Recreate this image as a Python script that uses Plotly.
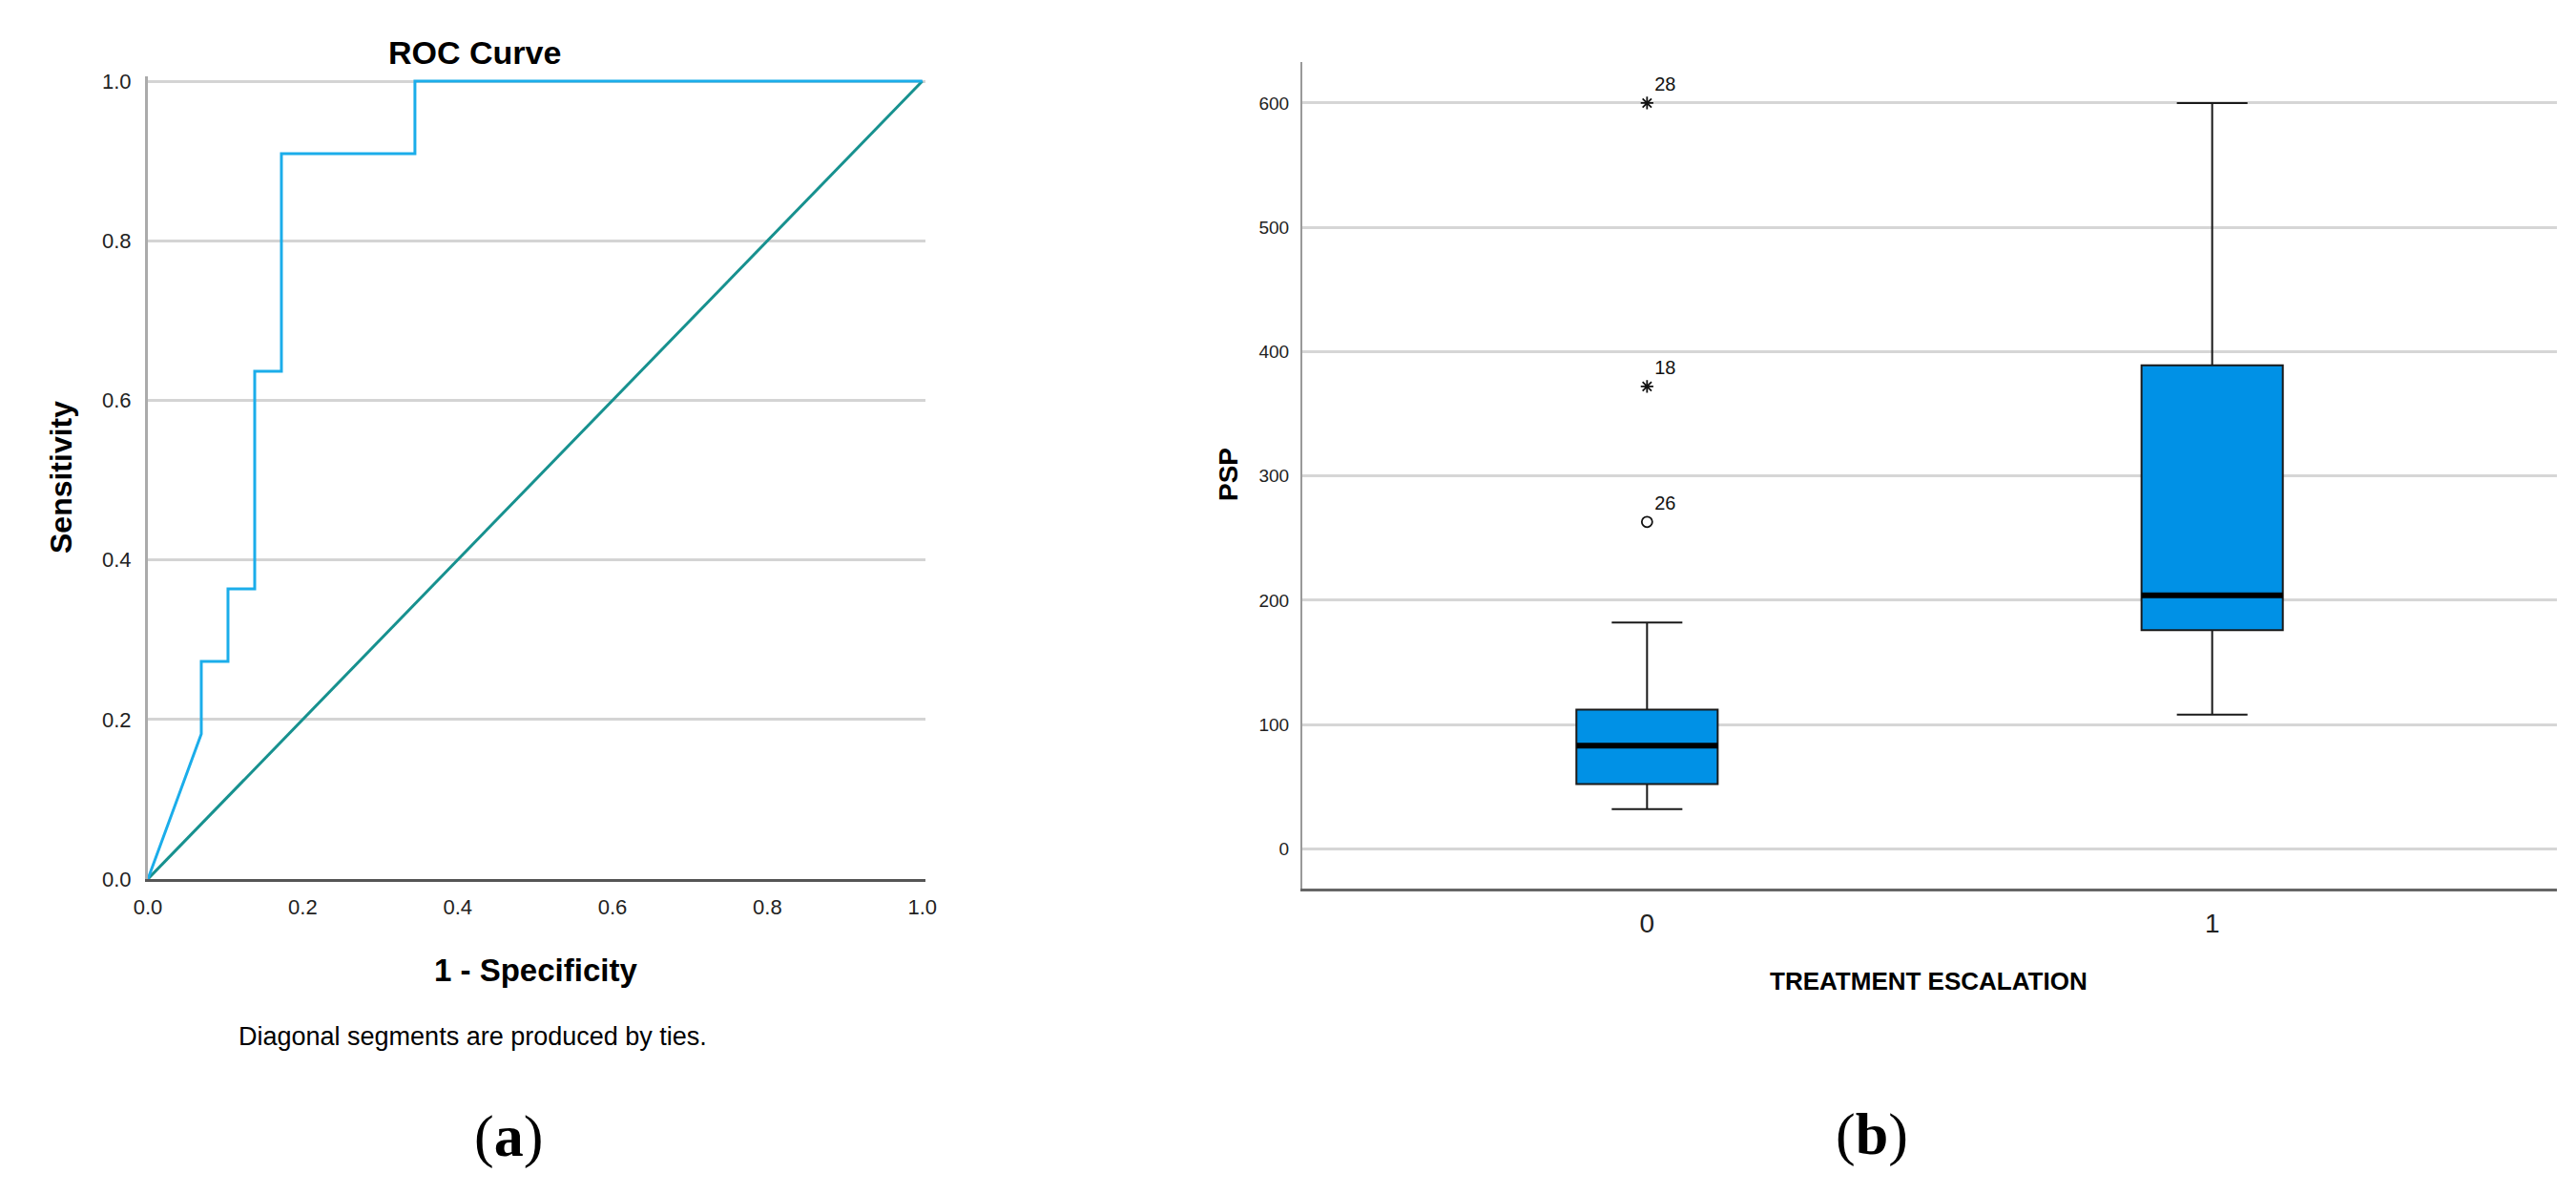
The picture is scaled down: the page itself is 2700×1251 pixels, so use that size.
import plotly.graph_objects as go

W, H = 2700, 1251
OFF = 8  # default page body margin

# ---------------- (a) ROC curve data ----------------
roc_fpr = [0, 2/29, 2/29, 3/29, 3/29, 4/29, 4/29, 5/29, 5/29, 10/29, 10/29, 1]
roc_tpr = [0, 2/11, 3/11, 3/11, 4/11, 4/11, 7/11, 7/11, 10/11, 10/11, 1, 1]
ref_fpr = [0, 1]
ref_tpr = [0, 1]
roc_ticks = [0, 0.2, 0.4, 0.6, 0.8, 1.0]
roc_tick_text = ["0.0", "0.2", "0.4", "0.6", "0.8", "1.0"]

# ---------------- (b) Box plot data ----------------
groups = [0, 1]
group_labels = ["0", "1"]
q1 = [52, 176]
median = [83, 204]
q3 = [112, 389]
lower_fence = [32, 108]
upper_fence = [182, 600]
outlier_group = [0, 0, 0]
outlier_value = [600, 372, 263]
outlier_id = ["28", "18", "26"]
outlier_extreme = [True, True, False]
psp_ticks = [0, 100, 200, 300, 400, 500, 600]

BOX_W = 0.25
FONT = "Liberation Sans, Arial, sans-serif"

def px_x(p):
    return (p - OFF) / W

def px_y(p):
    return 1 - (p - OFF) / H

fig = go.Figure()

# ROC traces
fig.add_trace(go.Scatter(x=ref_fpr, y=ref_tpr, mode="lines",
                         line=dict(color="#17918f", width=3),
                         xaxis="x", yaxis="y", showlegend=False, hoverinfo="skip"))
fig.add_trace(go.Scatter(x=roc_fpr, y=roc_tpr, mode="lines",
                         line=dict(color="#1badea", width=3),
                         xaxis="x", yaxis="y", showlegend=False))

# Box traces
fig.add_trace(go.Box(x=groups, q1=q1, median=median, q3=q3,
                     lowerfence=lower_fence, upperfence=upper_fence,
                     width=BOX_W, whiskerwidth=0.5, boxpoints=False,
                     fillcolor="#0091e6", line=dict(color="#1a1a1a", width=2),
                     xaxis="x2", yaxis="y2", showlegend=False))

# thick median lines
med_x, med_y = [], []
for g, m in zip(groups, median):
    med_x += [g - BOX_W / 2, g + BOX_W / 2, None]
    med_y += [m, m, None]
fig.add_trace(go.Scatter(x=med_x, y=med_y, mode="lines",
                         line=dict(color="#000000", width=6),
                         xaxis="x2", yaxis="y2", showlegend=False, hoverinfo="skip"))

# outliers
for extreme in (True, False):
    xs = [g for g, e in zip(outlier_group, outlier_extreme) if e == extreme]
    ys = [v for v, e in zip(outlier_value, outlier_extreme) if e == extreme]
    ts = [t for t, e in zip(outlier_id, outlier_extreme) if e == extreme]
    fig.add_trace(go.Scatter(
        x=xs, y=ys, mode="markers+text", text=ts, textposition="top right",
        textfont=dict(family=FONT, size=20, color="#111"),
        marker=dict(symbol="asterisk-open" if extreme else "circle-open",
                    size=11,
                    color="#111", line=dict(color="#111", width=1.8)),
        cliponaxis=False, xaxis="x2", yaxis="y2", showlegend=False))

axis_common = dict(zeroline=False, ticks="outside", tickcolor="rgba(0,0,0,0)",
                   automargin=False)

fig.update_layout(
    width=W, height=H,
    margin=dict(l=0, r=0, t=0, b=0, autoexpand=False),
    paper_bgcolor="white", plot_bgcolor="white",
    font=dict(family=FONT, color="#111"),
    xaxis=dict(domain=[px_x(155), px_x(970)], range=[0, 1.004],
               tickvals=roc_ticks, ticktext=roc_tick_text,
               tickfont=dict(size=22, color="#222"), ticklen=8,
               showgrid=False, showline=True, linecolor="#555", linewidth=3,
               anchor="y", **axis_common),
    yaxis=dict(domain=[px_y(921), px_y(80)], range=[0, 1.006],
               tickvals=roc_ticks, ticktext=roc_tick_text,
               tickfont=dict(size=22, color="#222"), ticklen=10,
               showgrid=True, gridcolor="#d4d4d4", gridwidth=3,
               showline=True, linecolor="#ababab", linewidth=3,
               anchor="x", **axis_common),
    xaxis2=dict(domain=[px_x(1365), px_x(2680)], range=[-0.61, 1.61],
                tickvals=groups, ticktext=group_labels,
                tickfont=dict(size=28, color="#222"), ticklen=9,
                showgrid=False, showline=True, linecolor="#666", linewidth=3,
                anchor="y2", **axis_common),
    yaxis2=dict(domain=[px_y(931), px_y(65)], range=[-32, 633],
                tickvals=psp_ticks, ticktext=[str(t) for t in psp_ticks],
                tickfont=dict(size=19, color="#222"), ticklen=8,
                showgrid=True, gridcolor="#d6d6d6", gridwidth=3,
                showline=True, linecolor="#999", linewidth=2,
                anchor="x2", **axis_common),
)

def ann(text, x, y, size, bold=False, angle=0, family=FONT):
    fig.add_annotation(text=f"<b>{text}</b>" if bold else text,
                       x=px_x(x), y=px_y(y), xref="paper", yref="paper",
                       showarrow=False, textangle=angle,
                       xanchor="center", yanchor="middle",
                       font=dict(family=family, size=size, color="#000"))

ann("ROC Curve", 497, 55, 34, bold=True)
ann("Sensitivity", 64, 500, 32, bold=True, angle=-90)
ann("1 - Specificity", 561, 1016, 33, bold=True)
ann("Diagonal segments are produced by ties.", 496, 1086, 27)
ann("(<b>a</b>)", 533, 1190, 62, family="Liberation Serif, Times New Roman, serif")

ann("PSP", 1287, 497, 28, bold=True, angle=-90)
ann("TREATMENT ESCALATION", 2022, 1028, 26, bold=True)
ann("(<b>b</b>)", 1962, 1188, 62, family="Liberation Serif, Times New Roman, serif")

fig.write_html("out.html")
